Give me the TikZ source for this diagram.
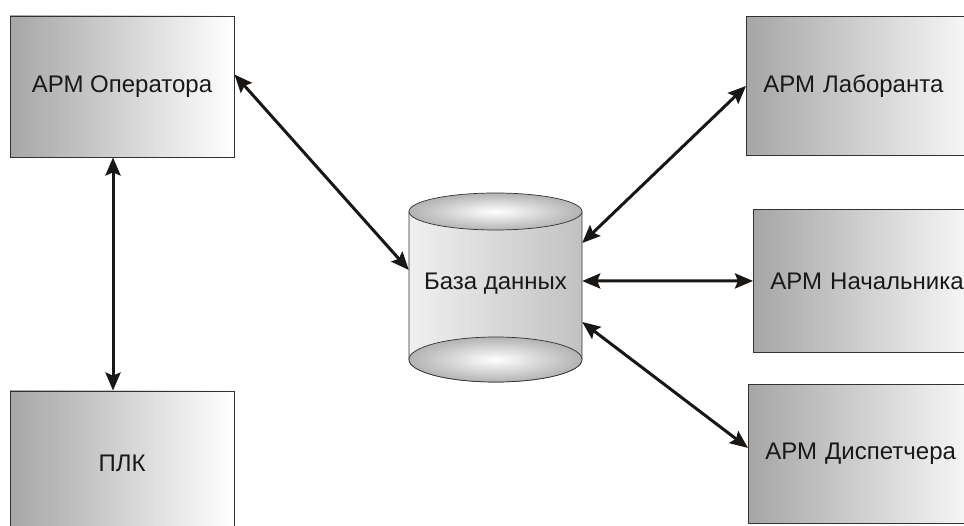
\documentclass[tikz,border=0pt]{standalone}
\usepackage{fontspec}
\setmainfont{Liberation Sans}
\usetikzlibrary{arrows.meta,calc}
\definecolor{boxgray}{RGB}{166,166,166}
\definecolor{edgec}{RGB}{50,50,50}
\definecolor{arrc}{RGB}{25,22,20}
\definecolor{txtc}{RGB}{25,25,25}
\begin{document}
\begin{tikzpicture}[x=1pt,y=-1pt,
  every node/.style={font=\fontsize{24}{28}\selectfont, text=txtc},
  grbox/.style={draw=edgec, line width=0.9pt, left color=boxgray, right color=white, shading angle=90,
    rectangle, inner sep=0pt},
  lbox/.style={grbox, anchor=north west, inner xsep=17pt, align=left},
  link/.style={arrc, line width=3pt, {Stealth[length=18pt,width=15pt,inset=3pt]}-{Stealth[length=18pt,width=15pt,inset=3pt]}}
]
\useasboundingbox (0,0) rectangle (964,526);
\fill[white] (0,0) rectangle (964,526);

% left boxes
\node[grbox, minimum width=224pt, minimum height=141pt] (op) at (122,86.5) {АРМ Оператора};
\node[grbox, minimum width=224pt, minimum height=144pt] (plc) at (122,463) {ПЛК};

% right boxes (extend past the right edge)
\node[lbox, minimum height=139pt, text width=210pt] (lab) at (746,16) {АРМ Лаборанта};
\node[lbox, minimum height=143pt, text width=203pt] (nach) at (753,209) {АРМ Начальника};
\node[lbox, minimum height=139pt, text width=208pt] (disp) at (748,384) {АРМ Диспетчера};

% database cylinder
\path[left color=gray!12, right color=gray!48, draw=edgec, line width=0.7pt]
  (409,211.5) -- (409,359.5) arc[start angle=180, end angle=360, x radius=86.5, y radius=-22.5]
  -- (582,211.5) -- cycle;
\path[inner color=white, outer color=gray!60, draw=edgec, line width=0.7pt]
  (495.5,359.5) ellipse[x radius=86.5, y radius=22.5];
\path[inner color=white, outer color=gray!60, draw=edgec, line width=0.7pt]
  (495.5,211.5) ellipse[x radius=86.5, y radius=18.5];
\node[minimum width=173pt, minimum height=150pt, inner sep=0pt] (db) at (495.5,284) {База данных};

% connectors
\draw[link] ([xshift=-9pt]op.south) -- ([xshift=-9pt]plc.north);
\draw[link] ([yshift=12pt]op.east) -- ([yshift=14pt]db.west);
\draw[link] ([yshift=41pt]db.east) -- (lab.west);
\draw[link] ([yshift=3pt]db.east) -- (nach.west);
\draw[link] ([yshift=-38pt]db.east) -- ([yshift=6pt]disp.west);
\end{tikzpicture}
\end{document}
